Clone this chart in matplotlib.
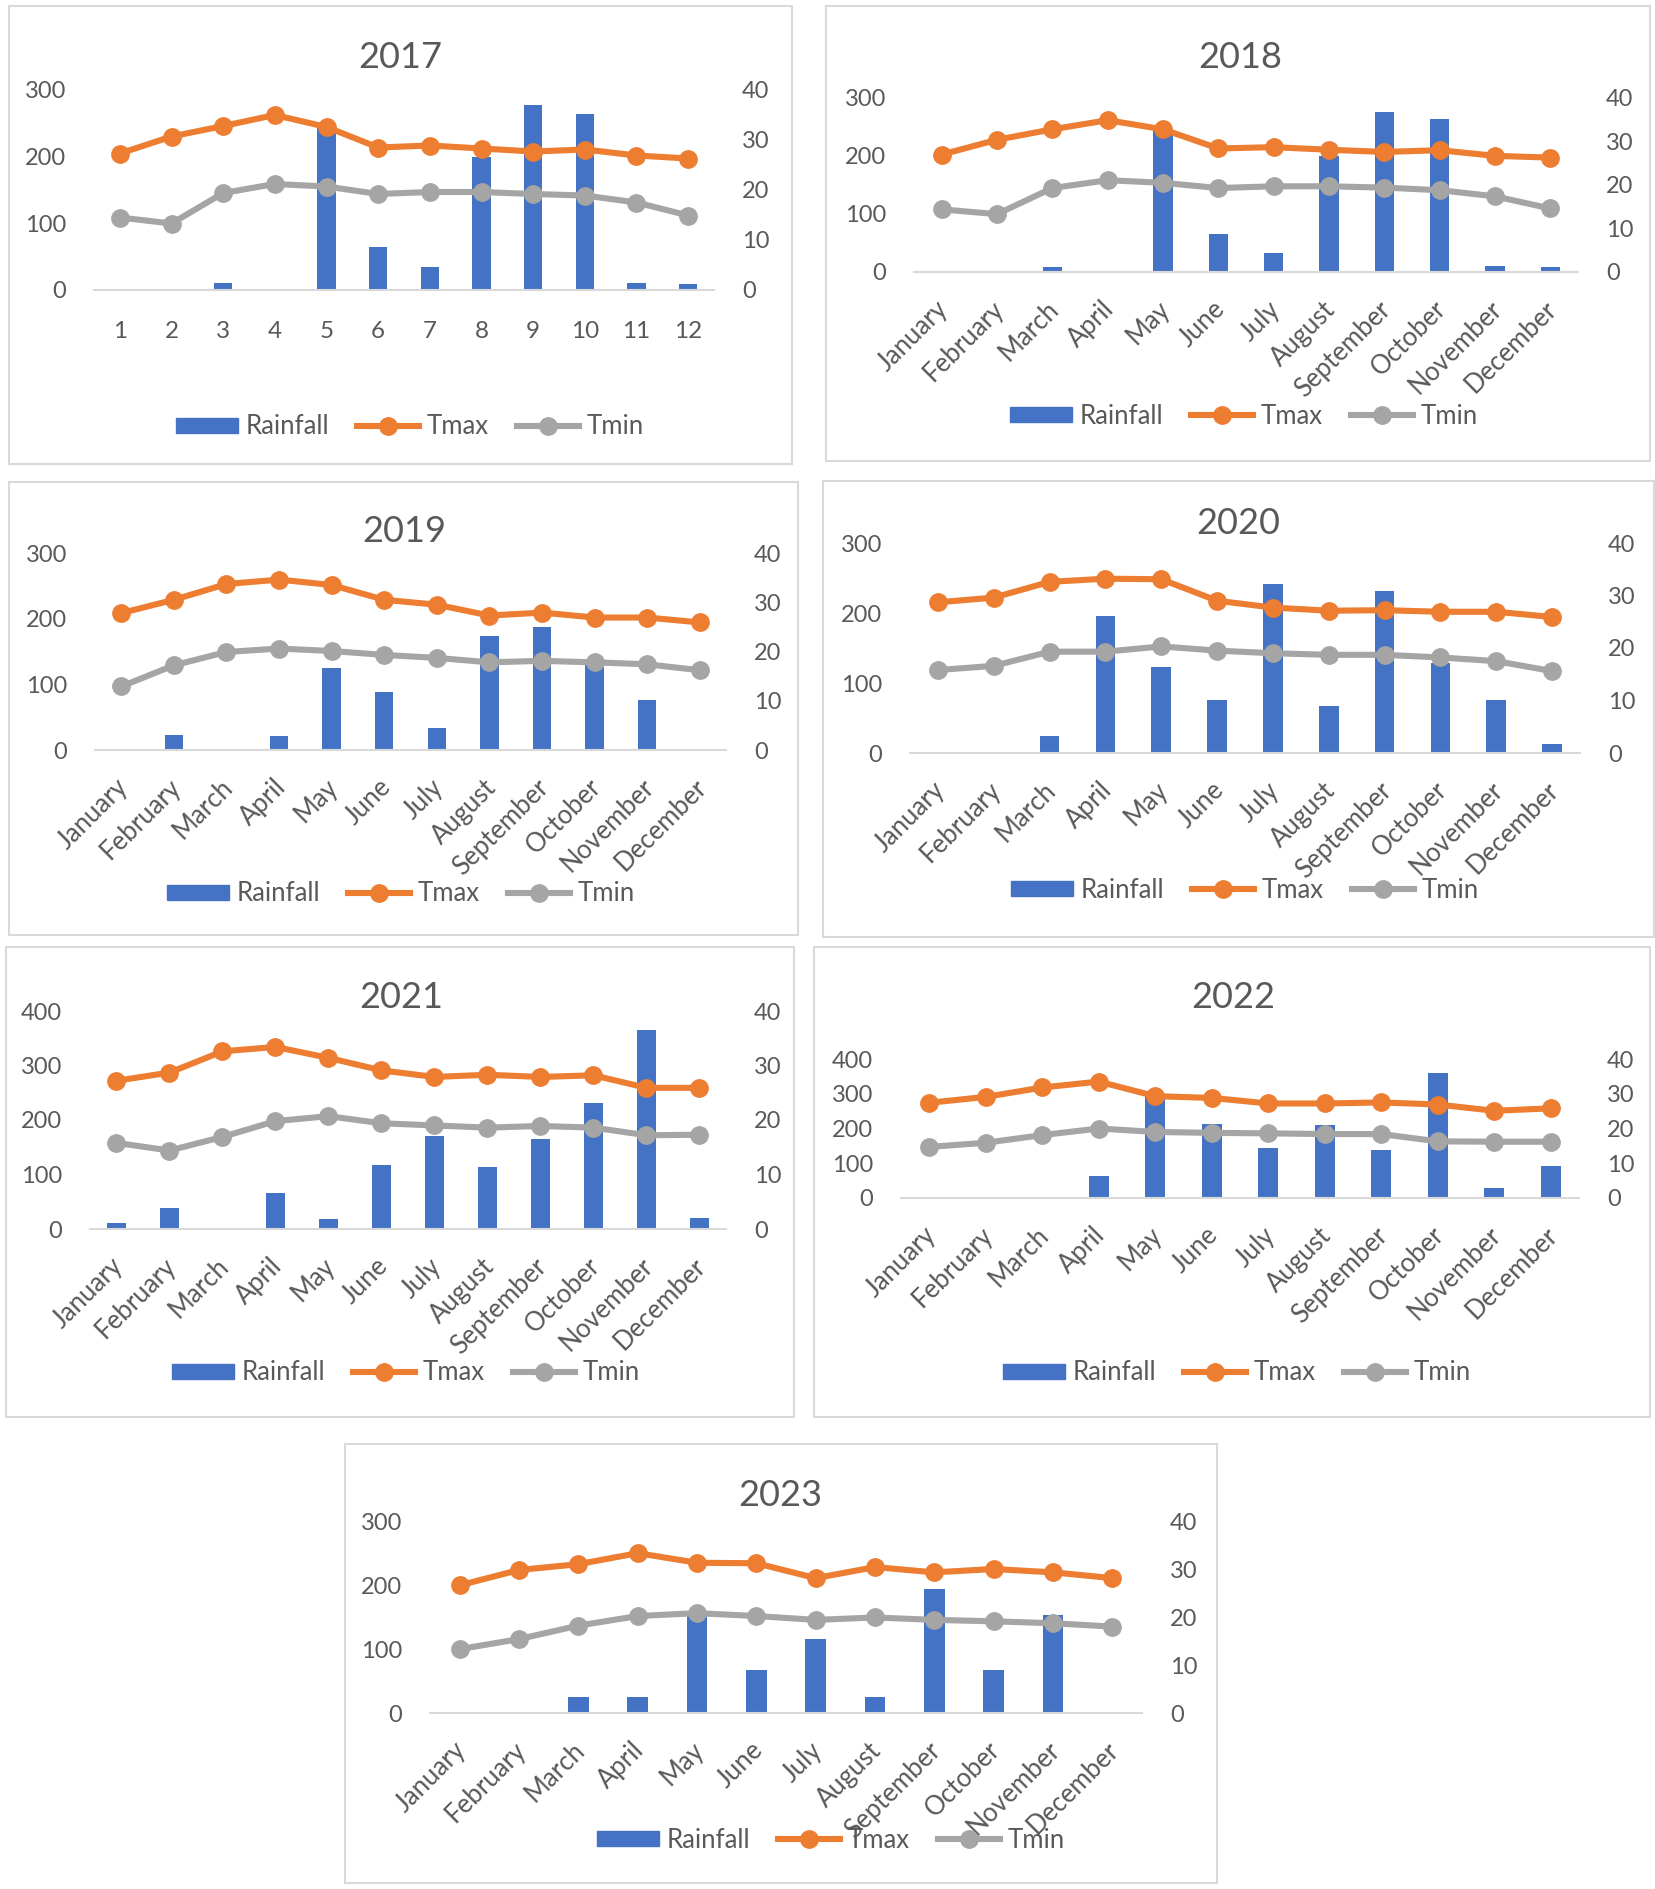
import numpy as np
import matplotlib.pyplot as plt
from matplotlib.patches import Rectangle, Patch
from matplotlib.lines import Line2D
import matplotlib.transforms as mtransforms

plt.rcParams['font.family'] = ['Lato', 'DejaVu Sans']

W, H = 1656, 1889
TXT = '#595959'
C_RAIN, C_TMAX, C_TMIN = '#4472C4', '#ED7D31', '#A5A5A5'

months = ['January', 'February', 'March', 'April', 'May', 'June', 'July',
          'August', 'September', 'October', 'November', 'December']
month_nums = [str(i) for i in range(1, 13)]

# rainfall (mm), Tmax / Tmin (deg C) per year
rain_2017 = [0, 0, 10, 0, 245, 65, 34, 200, 277, 264, 10, 8.5]
tmax_2017 = [27.3, 30.7, 32.8, 35.0, 32.6, 28.5, 28.9, 28.3, 27.7, 28.1, 26.9, 26.3]
tmin_2017 = [14.5, 13.3, 19.4, 21.2, 20.7, 19.2, 19.6, 19.6, 19.2, 18.9, 17.5, 14.9]

rain_2018 = [0, 0, 8.6, 0, 244, 65, 32, 200, 275, 264, 10, 8.6]
tmax_2018 = [27.0, 30.4, 32.8, 34.9, 32.8, 28.4, 28.7, 28.1, 27.6, 28.0, 26.7, 26.3]
tmin_2018 = [14.4, 13.3, 19.3, 21.1, 20.5, 19.3, 19.7, 19.7, 19.4, 18.8, 17.4, 14.6]

rain_2019 = [0, 23.5, 0, 22, 125.5, 89, 34, 173, 187, 135, 75.5, 2]
tmax_2019 = [27.8, 30.5, 33.7, 34.6, 33.5, 30.5, 29.5, 27.3, 27.9, 26.9, 26.9, 25.9]
tmin_2019 = [12.9, 17.2, 19.9, 20.6, 20.1, 19.3, 18.7, 17.8, 18.1, 17.8, 17.4, 16.2]

rain_2020 = [0, 0, 23.7, 196, 123, 76, 242, 66.5, 231.6, 128, 76, 12.8]
tmax_2020 = [28.7, 29.6, 32.6, 33.2, 33.1, 29.0, 27.7, 27.1, 27.2, 26.9, 26.9, 25.9]
tmin_2020 = [15.8, 16.6, 19.3, 19.3, 20.3, 19.5, 19.0, 18.7, 18.7, 18.2, 17.5, 15.6]

rain_2021 = [11, 39, 0, 66, 18, 117, 171, 114, 166, 232, 366, 20]
tmax_2021 = [27.2, 28.7, 32.6, 33.4, 31.4, 29.1, 27.9, 28.3, 27.9, 28.2, 25.9, 25.9]
tmin_2021 = [15.8, 14.4, 16.9, 19.8, 20.7, 19.4, 19.0, 18.6, 18.9, 18.6, 17.2, 17.3]

rain_2022 = [0, 0, 0, 62.5, 295, 212.5, 145, 210, 139, 359, 29, 92]
tmax_2022 = [27.4, 29.1, 31.8, 33.5, 29.3, 28.8, 27.2, 27.2, 27.5, 26.9, 25.1, 25.8]
tmin_2022 = [14.7, 15.9, 18.1, 20.0, 19.0, 18.75, 18.6, 18.4, 18.4, 16.3, 16.2, 16.2]

rain_2023 = [0, 0, 25, 25, 159, 67.6, 115.4, 25, 193.4, 67.6, 153.4, 0]
tmax_2023 = [26.6, 29.8, 31.0, 33.3, 31.3, 31.2, 28.1, 30.4, 29.3, 30.0, 29.3, 28.1]
tmin_2023 = [13.3, 15.4, 18.2, 20.2, 20.8, 20.2, 19.4, 19.9, 19.4, 19.1, 18.7, 18.0]

years = ['2017', '2018', '2019', '2020', '2021', '2022', '2023']
rain_max = [300, 300, 300, 300, 400, 400, 300]

# layout in pixels: border box, plot box, title centre, legend centre
panels = [
    dict(box=(9, 6, 792, 464), plot=(94, 90, 714, 290), title=(400, 57), leg=(410, 427)),
    dict(box=(826, 6, 1650, 461), plot=(914, 98, 1578, 272), title=(1240, 57), leg=(1244, 416)),
    dict(box=(9, 482, 798, 935), plot=(95, 553, 726, 750), title=(404, 532), leg=(401, 894)),
    dict(box=(823, 481, 1654, 937), plot=(910, 543, 1580, 753), title=(1238, 523), leg=(1245, 890)),
    dict(box=(6, 947, 794, 1417), plot=(90, 1011, 726, 1229), title=(401, 997), leg=(406, 1373)),
    dict(box=(814, 947, 1650, 1417), plot=(901, 1059, 1579, 1198), title=(1233, 997), leg=(1237, 1373)),
    dict(box=(345, 1444, 1217, 1883), plot=(430, 1521, 1142, 1713), title=(780, 1495), leg=(831, 1840)),
]

data = {
    '2017': (rain_2017, tmax_2017, tmin_2017),
    '2018': (rain_2018, tmax_2018, tmin_2018),
    '2019': (rain_2019, tmax_2019, tmin_2019),
    '2020': (rain_2020, tmax_2020, tmin_2020),
    '2021': (rain_2021, tmax_2021, tmin_2021),
    '2022': (rain_2022, tmax_2022, tmin_2022),
    '2023': (rain_2023, tmax_2023, tmin_2023),
}

fig = plt.figure(figsize=(W / 100, H / 100), dpi=100)


def fbox(x0, y0, x1, y1):
    return [x0 / W, 1 - y1 / H, (x1 - x0) / W, (y1 - y0) / H]


LW, MS = 4.4, 12.5
x = np.arange(1, 13)
for yr, ymax, p in zip(years, rain_max, panels):
    rain, tmax, tmin = data[yr]

    b = fbox(*p['box'])
    fig.add_artist(Rectangle((b[0], b[1]), b[2], b[3], transform=fig.transFigure,
                             fill=False, ec='#D9D9D9', lw=1.5))

    ax = fig.add_axes(fbox(*p['plot']))
    ax.bar(x, rain, width=0.35, color=C_RAIN, zorder=2)
    ax.set_xlim(0.5, 12.5)
    ax.set_ylim(0, ymax)
    ax.set_yticks(np.arange(0, ymax + 1, 100))
    for s in ['top', 'left', 'right']:
        ax.spines[s].set_visible(False)
    ax.spines['bottom'].set_color('#D9D9D9')
    ax.spines['bottom'].set_linewidth(1.5)
    ax.tick_params(length=0, labelsize=17, labelcolor=TXT)
    ax.tick_params(axis='y', pad=20)
    ax.set_xticks(x)
    if yr == '2017':
        ax.set_xticklabels(month_nums, fontsize=17.5)
        ax.tick_params(axis='x', pad=22)
    else:
        ax.set_xticklabels(months, rotation=45, ha='right', va='center',
                           rotation_mode='anchor', fontsize=18.5)
        ax.tick_params(axis='x', pad=24)
        shift = mtransforms.ScaledTranslation(2 / 72, 0, fig.dpi_scale_trans)
        for lab in ax.get_xticklabels():
            lab.set_transform(lab.get_transform() + shift)

    ax2 = ax.twinx()
    ax2.plot(x, tmax, color=C_TMAX, lw=LW, marker='o', ms=MS, zorder=3)
    ax2.plot(x, tmin, color=C_TMIN, lw=LW, marker='o', ms=MS, zorder=3)
    ax2.set_ylim(0, 40)
    ax2.set_yticks([0, 10, 20, 30, 40])
    for s in ax2.spines.values():
        s.set_visible(False)
    ax2.tick_params(length=0, labelsize=17, labelcolor=TXT, pad=20)

    fig.text(p['title'][0] / W, 1 - p['title'][1] / H, yr, ha='center', va='center',
             fontsize=26, color=TXT)

    handles = [Patch(color=C_RAIN),
               Line2D([], [], color=C_TMAX, lw=LW, marker='o', ms=MS),
               Line2D([], [], color=C_TMIN, lw=LW, marker='o', ms=MS)]
    fig.legend(handles, ['Rainfall', 'Tmax', 'Tmin'], loc='center',
               bbox_to_anchor=(p['leg'][0] / W, 1 - p['leg'][1] / H),
               ncol=3, frameon=False, fontsize=18.5, labelcolor=TXT,
               handlelength=2.4, handleheight=0.55, handletextpad=0.3,
               columnspacing=1.1, borderpad=0)

fig.savefig('out.png', dpi=100, facecolor='white')
